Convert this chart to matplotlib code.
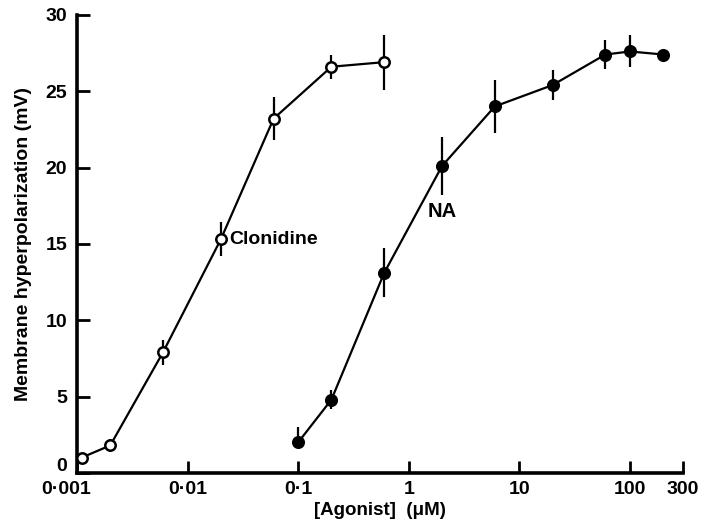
import matplotlib
matplotlib.use("Agg")
import matplotlib.pyplot as plt
import matplotlib.transforms as mtransforms
from matplotlib.ticker import FixedLocator, NullLocator

plt.rcParams['font.family'] = ['Liberation Sans', 'DejaVu Sans']

# Clonidine (open circles)
clon_conc = [0.0011, 0.002, 0.006, 0.02, 0.06, 0.2, 0.6]
clon_resp = [1.0, 1.8, 7.9, 15.3, 23.2, 26.6, 26.9]
clon_err = [0.3, 0.4, 0.8, 1.1, 1.4, 0.8, 1.8]

# Noradrenaline (filled circles)
na_conc = [0.1, 0.2, 0.6, 2, 6, 20, 60, 100, 200]
na_resp = [2.0, 4.8, 13.1, 20.1, 24.0, 25.4, 27.4, 27.6, 27.4]
na_err_lo = [0.0, 0.6, 1.6, 1.9, 1.75, 1.0, 0.95, 1.05, 0.0]
na_err_hi = [1.0, 0.6, 1.6, 1.9, 1.75, 1.0, 0.95, 1.05, 0.0]

xticks = [0.001, 0.01, 0.1, 1, 10, 100, 300]
xtick_labels = ['0·001', '0·01', '0·1', '1', '10', '100', '300']
yticks = [0, 5, 10, 15, 20, 25, 30]

fig = plt.figure(figsize=(7.06, 5.29), dpi=100)
ax = fig.add_axes([0.109, 0.106, 0.858, 0.866])

ax.errorbar(clon_conc, clon_resp, yerr=clon_err, fmt='-o', color='black',
            mfc='white', mec='black', mew=1.8, ms=7.5, lw=1.6,
            elinewidth=1.6, capsize=0, clip_on=False, zorder=3)
ax.errorbar(na_conc, na_resp, yerr=[na_err_lo, na_err_hi], fmt='-o',
            color='black', mfc='black', mec='black', ms=8.4, lw=1.6,
            elinewidth=1.6, capsize=0, clip_on=False, zorder=3)

ax.set_xscale('log')
ax.set_xlim(0.001, 300)
ax.set_ylim(0, 30)

ax.xaxis.set_major_locator(FixedLocator(xticks))
ax.xaxis.set_minor_locator(NullLocator())
ax.set_xticklabels(xtick_labels)
ax.set_yticks(yticks)

for s in ['top', 'right']:
    ax.spines[s].set_visible(False)
for s in ['left', 'bottom']:
    ax.spines[s].set_linewidth(2.6)

ax.tick_params(axis='both', direction='in', length=9, width=2,
               labelsize=14)
ax.tick_params(axis='x', pad=6)
ax.tick_params(axis='y', pad=7)
for lab in ax.get_xticklabels() + ax.get_yticklabels():
    lab.set_fontweight('bold')

# lift the "0" on the y axis so it clears the x tick labels
zero_lab = ax.get_yticklabels()[0]
zero_lab.set_transform(zero_lab.get_transform() +
                       mtransforms.ScaledTranslation(0, 6 / 72, fig.dpi_scale_trans))
first_x = ax.get_xticklabels()[0]
first_x.set_transform(first_x.get_transform() +
                      mtransforms.ScaledTranslation(-8 / 72, 0, fig.dpi_scale_trans))

ax.set_ylabel('Membrane hyperpolarization (mV)', fontsize=14,
              fontweight='bold', labelpad=10)
ax.set_xlabel('[Agonist]  (μM)', fontsize=13.5, fontweight='bold',
              labelpad=3)

ax.text(0.024, 15.3, 'Clonidine', fontsize=14, fontweight='bold',
        va='center', ha='left')
ax.text(2.0, 17.1, 'NA', fontsize=14.5, fontweight='bold',
        va='center', ha='center')

fig.savefig('out.png', dpi=100, facecolor='white')
